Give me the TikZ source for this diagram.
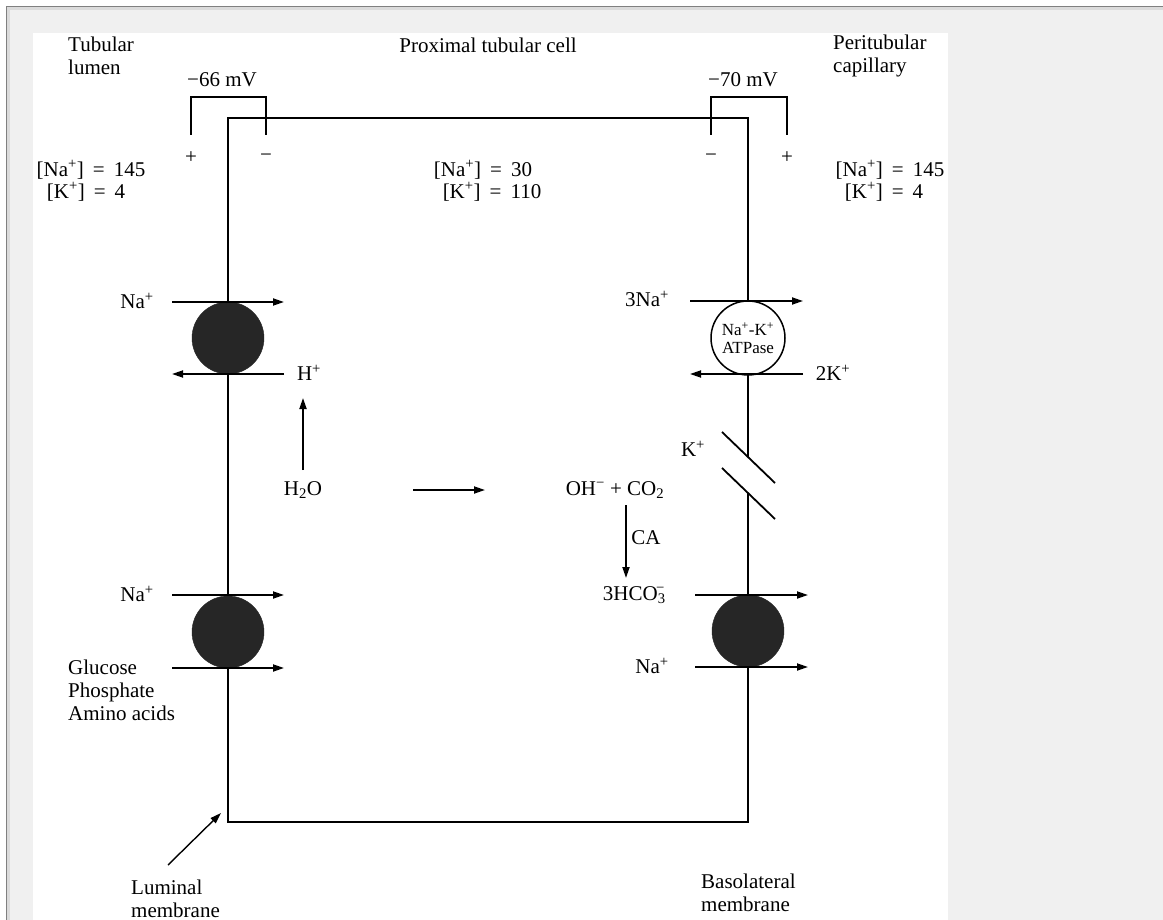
\documentclass[tikz,border=0pt]{standalone}
\usepackage{fontspec}
\setmainfont{Liberation Serif}
\usetikzlibrary{arrows.meta}
\newcommand{\eqsp}{\hspace{9pt}=\hspace{9pt}}
\begin{document}
\begin{tikzpicture}[x=1pt,y=-1pt,
  lbl/.style={inner sep=0pt,font=\fontsize{21}{23}\selectfont},
  lblml/.style={lbl,align=left,anchor=west},
  memb/.style={line width=1.8pt,black},
  arr/.style={line width=1.8pt,-{Triangle[length=11pt,width=7pt]}},
  carrier/.style={circle,minimum size=72pt,inner sep=0pt,fill=black!85,draw=black!85},
  pump/.style={circle,minimum size=74pt,inner sep=0pt,fill=white,draw=black,line width=1.5pt,align=center,font=\fontsize{17}{18}\selectfont},
  brk/.style={line width=1.7pt}]
% background frame
\useasboundingbox (0,0) rectangle (1163,920);
\fill[white] (0,0) rectangle (1163,920);
\fill[black!6] (6,6) rectangle (1163,920);
\fill[black!14] (6,6) rectangle (1163,10);
\fill[black!14] (6,6) rectangle (10,920);
\draw[black!50,line width=1pt] (6.5,920) -- (6.5,6.5) -- (1163,6.5);
\fill[white] (33,33) rectangle (948,920);

% cell outline
\coordinate (bl) at (228,822);
\coordinate (tl) at (228,118);
\coordinate (tr) at (748,118);
\coordinate (kt) at (748,457);
\coordinate (kb) at (748,493);
\coordinate (br) at (748,822);
\draw[memb] (kt) -- (tr) -- (tl) -- (bl) -- (br) -- (kb);

% potential brackets
\coordinate (b1a) at (191,135); \coordinate (b1b) at (191,97);
\coordinate (b1c) at (266,97);  \coordinate (b1d) at (266,135);
\draw[brk] (b1a) -- (b1b) -- (b1c) -- (b1d);
\coordinate (b2a) at (711,135); \coordinate (b2b) at (711,97);
\coordinate (b2c) at (787,97);  \coordinate (b2d) at (787,135);
\draw[brk] (b2a) -- (b2b) -- (b2c) -- (b2d);
\node[lbl] (mv1) at (222,80) {−66 mV};
\node[lbl] (mv2) at (743,80) {−70 mV};
\node[lbl] (p1) at (191,158) {+};
\node[lbl] (m1) at (266,158) {−};
\node[lbl] (m2) at (711,158) {−};
\node[lbl] (p2) at (787,158) {+};

% titles
\node[lblml] (lumen) at (68,56) {Tubular\\lumen};
\node[lbl] (cell) at (488,45) {Proximal tubular cell};
\node[lblml] (cap) at (833,56) {Peritubular\\capillary};

% concentrations
\node[lbl] (na1) at (91,170) {[Na\textsuperscript{+}]\eqsp 145};
\node[lbl] (k1) at (86,192) {[K\textsuperscript{+}]\eqsp 4};
\node[lbl] (na2) at (483,170) {[Na\textsuperscript{+}]\eqsp 30};
\node[lbl] (k2) at (492,192) {[K\textsuperscript{+}]\eqsp 110};
\node[lbl] (na3) at (890,170) {[Na\textsuperscript{+}]\eqsp 145};
\node[lbl] (k3) at (884,192) {[K\textsuperscript{+}]\eqsp 4};

% upper left Na/H exchanger
\node[carrier] (nhe) at (228,338) {};
\coordinate (a1s) at (172,302); \coordinate (a1e) at (284,302);
\coordinate (a2s) at (284,374); \coordinate (a2e) at (172,374);
\draw[arr] (a1s) -- (a1e);
\draw[arr] (a2s) -- (a2e);
\node[lbl] (naA) at (137,301) {Na\textsuperscript{+}};
\node[lbl] (hp) at (309,373) {H\textsuperscript{+}};
\node[lbl] (h2o) at (303,490) {H\textsubscript{2}O};
\coordinate (hpb) at (303,398);
\coordinate (h2ot) at (303,470);
\draw[arr] (h2ot) -- (hpb);

% reactions
\node[lbl] (ohco) at (615,490) {OH\textsuperscript{−} + CO\textsubscript{2}};
\coordinate (ha) at (413,490); \coordinate (hb) at (485,490);
\draw[arr] (ha) -- (hb);
\node[lbl] (hco) at (634,595) {3HCO\textsubscript{3}\kern-0.45em\textsuperscript{−}};
\coordinate (caa) at (626,505); \coordinate (cab) at (626,578);
\draw[arr] (caa) -- (cab);
\node[lbl] (ca) at (646,538) {CA};

% Na-K ATPase
\node[pump] (atp) at (748,338) {Na\textsuperscript{+}-K\textsuperscript{+}\\ATPase};
\coordinate (a3s) at (690,301); \coordinate (a3e) at (803,301);
\coordinate (a4s) at (803,374); \coordinate (a4e) at (690,374);
\draw[arr] (a3s) -- (a3e);
\draw[arr] (a4s) -- (a4e);
\node[lbl] (na3n) at (647,299) {3Na\textsuperscript{+}};
\node[lbl] (k2k) at (833,373) {2K\textsuperscript{+}};

% K channel
\coordinate (c1a) at (722,432); \coordinate (c1b) at (775,483);
\coordinate (c2a) at (722,468); \coordinate (c2b) at (775,519);
\draw[memb] (c1a) -- (c1b);
\draw[memb] (c2a) -- (c2b);
\node[lbl] (kk) at (693,449) {K\textsuperscript{+}};

% lower left cotransporter
\node[carrier] (sglt) at (228,632) {};
\coordinate (a5s) at (172,595); \coordinate (a5e) at (284,595);
\coordinate (a6s) at (172,668); \coordinate (a6e) at (284,668);
\draw[arr] (a5s) -- (a5e);
\draw[arr] (a6s) -- (a6e);
\node[lbl] (naB) at (137,594) {Na\textsuperscript{+}};
\node[lblml] (glu) at (68,690) {Glucose\\Phosphate\\Amino acids};

% lower right cotransporter
\node[carrier] (nbc) at (748,631) {};
\coordinate (a7s) at (695,595); \coordinate (a7e) at (808,595);
\coordinate (a8s) at (695,667); \coordinate (a8e) at (808,667);
\draw[arr] (a7s) -- (a7e);
\draw[arr] (a8s) -- (a8e);
\node[lbl] (naC) at (652,666) {Na\textsuperscript{+}};

% membrane labels
\node[lblml] (lum) at (131,899) {Luminal\\membrane};
\coordinate (lma) at (168,865); \coordinate (lmb) at (221,813);
\draw[arr,line width=1.4pt] (lma) -- (lmb);
\node[lblml] (baso) at (701,893) {Basolateral\\membrane};
\end{tikzpicture}
\end{document}
